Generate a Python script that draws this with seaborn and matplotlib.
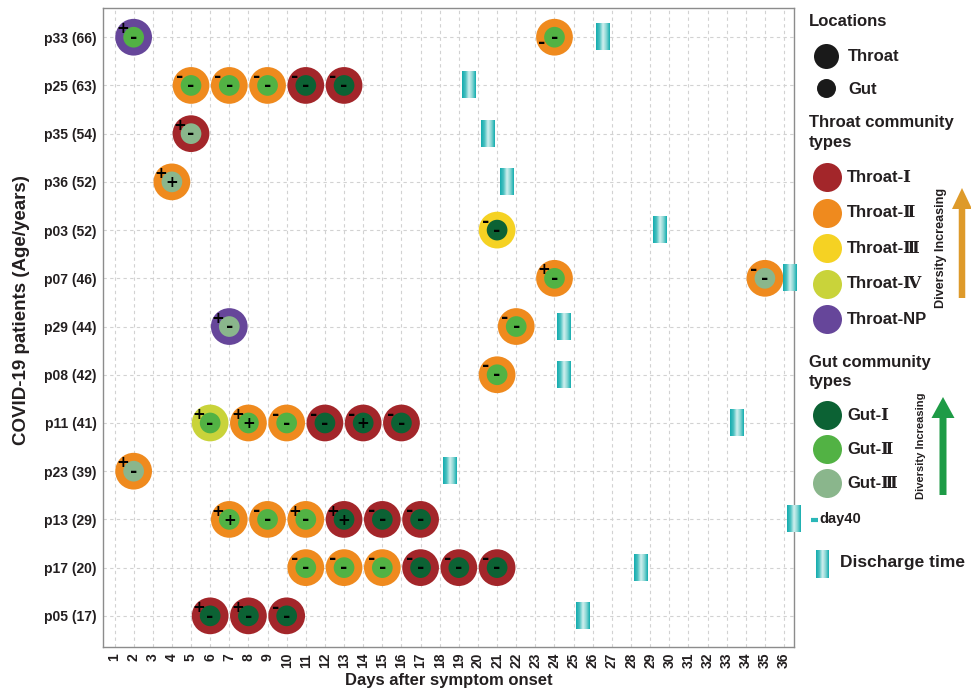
import numpy as np
import pandas as pd
import matplotlib
matplotlib.use("Agg")
import matplotlib.pyplot as plt
import seaborn as sns
from matplotlib import font_manager
from matplotlib.colors import LinearSegmentedColormap
from matplotlib.patches import FancyArrow

# ---------------------------------------------------------------- data
patients = ["p33 (66)", "p25 (63)", "p35 (54)", "p36 (52)", "p03 (52)",
            "p07 (46)", "p29 (44)", "p08 (42)", "p11 (41)", "p23 (39)",
            "p13 (29)", "p17 (20)", "p05 (17)"]
discharge_day = [26.5, 19.5, 20.5, 21.5, 29.5, 36.3, 24.5, 24.5, 33.5,
                 18.5, 36.5, 28.5, 25.5]

sample_patient = (["p33 (66)"] * 2 + ["p25 (63)"] * 5 + ["p35 (54)"] + ["p36 (52)"]
                  + ["p03 (52)"] + ["p07 (46)"] * 2 + ["p29 (44)"] * 2 + ["p08 (42)"]
                  + ["p11 (41)"] * 6 + ["p23 (39)"] + ["p13 (29)"] * 6
                  + ["p17 (20)"] * 6 + ["p05 (17)"] * 3)
sample_day = [2, 24,
              5, 7, 9, 11, 13,
              5,
              4,
              21,
              24, 35,
              7, 22,
              21,
              6, 8, 10, 12, 14, 16,
              2,
              7, 9, 11, 13, 15, 17,
              11, 13, 15, 17, 19, 21,
              6, 8, 10]
throat_type = ["NP", "II",
               "II", "II", "II", "I", "I",
               "I",
               "II",
               "III",
               "II", "II",
               "NP", "II",
               "II",
               "IV", "II", "II", "I", "I", "I",
               "II",
               "II", "II", "II", "I", "I", "I",
               "II", "II", "II", "I", "I", "I",
               "I", "I", "I"]
gut_type = ["II", "II",
            "II", "II", "II", "I", "I",
            "III",
            "III",
            "I",
            "II", "III",
            "III", "II",
            "II",
            "II", "II", "II", "I", "I", "I",
            "III",
            "II", "II", "II", "I", "I", "I",
            "II", "II", "II", "I", "I", "I",
            "I", "I", "I"]
throat_sign = ["+", "-",
               "-", "-", "-", "-", "-",
               "+",
               "+",
               "-",
               "+", "-",
               "+", "-",
               "-",
               "+", "+", "-", "-", "-", "-",
               "+",
               "+", "-", "+", "+", "-", "-",
               "-", "-", "-", "-", "-", "-",
               "+", "+", "-"]
gut_sign = ["-", "-",
            "-", "-", "-", "-", "-",
            "-",
            "+",
            "-",
            "-", "-",
            "-", "-",
            "-",
            "-", "+", "-", "-", "+", "-",
            "-",
            "+", "-", "-", "+", "-", "-",
            "-", "-", "-", "-", "-", "-",
            "-", "-", "-"]
# samples whose throat sign sits below-left of the circle
throat_sign_low = [("p33 (66)", 24)]

day_ticks = list(range(1, 37))

throat_levels = ["I", "II", "III", "IV", "NP"]
throat_labels = ["Throat-Ⅰ", "Throat-Ⅱ", "Throat-Ⅲ", "Throat-Ⅳ", "Throat-NP"]
gut_levels = ["I", "II", "III"]
gut_labels = ["Gut-Ⅰ", "Gut-Ⅱ", "Gut-Ⅲ"]

throat_colors = {"I": "#A3262A", "II": "#EF8A1E", "III": "#F5D223",
                 "IV": "#C9D33A", "NP": "#66469A"}
gut_colors = {"I": "#0C6234", "II": "#52B244", "III": "#8AB68C"}

# ---------------------------------------------------------------- style
sns.set_style("white")
available = {f.name for f in font_manager.fontManager.ttflist}
NARROW = "Liberation Sans Narrow" if "Liberation Sans Narrow" in available else "Liberation Sans"
BASE = ["Liberation Sans", "DejaVu Serif", "Noto Sans CJK SC", "DejaVu Sans"]
plt.rcParams["font.family"] = BASE
INK = "#231f20"

df = pd.DataFrame({
    "patient": pd.Categorical(sample_patient, categories=patients, ordered=True),
    "day": sample_day,
    "throat": throat_type,
    "gut": gut_type,
    "tsign": throat_sign,
    "gsign": gut_sign,
})

fig = plt.figure(figsize=(9.71, 6.91), dpi=100)
ax = fig.add_axes([0.1061, 0.0641, 0.7116, 0.9239])

sns.scatterplot(data=df, x="day", y="patient", hue="throat", palette=throat_colors,
                s=700, linewidth=0, legend=False, ax=ax, zorder=3)
sns.scatterplot(data=df, x="day", y="patient", hue="gut", palette=gut_colors,
                s=222, linewidth=0, legend=False, ax=ax, zorder=4)

# community sign labels
sign_font = {"-": 12.5, "+": 11}
for p, d, ts, gs in zip(sample_patient, sample_day, throat_sign, gut_sign):
    yi = patients.index(p)
    off = (-9.5, -4.5) if (p, d) in throat_sign_low else (-8.0, 6.0)
    ax.annotate(ts, (d, yi), xytext=off, textcoords="offset points",
                ha="center", va="center", fontsize=sign_font[ts], fontweight="bold",
                family="DejaVu Sans", color="black", zorder=6)
    ax.annotate(gs, (d, yi), xytext=(0, -0.5), textcoords="offset points",
                ha="center", va="center", fontsize=sign_font[gs], fontweight="bold",
                family="DejaVu Sans", color="black", zorder=6)

# discharge-time bars with a teal gradient
bar_cmap = LinearSegmentedColormap.from_list(
    "discharge", ["#13acae", "#48c0c0", "#d3f0ef", "#86d5d3", "#13acae"])
grad = np.linspace(0, 1, 64).reshape(1, -1)
bar_w, bar_h = 0.7, 0.54
for yi, d in enumerate(discharge_day):
    im = ax.imshow(grad, cmap=bar_cmap, aspect="auto", interpolation="bilinear",
                   extent=[d - bar_w / 2, d + bar_w / 2, yi + bar_h / 2, yi - bar_h / 2],
                   zorder=5)
    im.set_clip_on(False)

# "day40" note beside the last p13 bar
y13 = patients.index("p13 (29)")
ax.annotate("day40", (discharge_day[y13], y13), xytext=(18.5, 0), textcoords="offset points",
            ha="left", va="center", fontsize=10.5, fontweight="bold",
            family=NARROW, color=INK, annotation_clip=False)

ax.set_xlim(0.4, 36.52)
ax.set_ylim(12.64, -0.6)
ax.set_xticks(day_ticks)
ax.set_xticklabels([str(t) for t in day_ticks], rotation=90, family=NARROW,
                   fontweight="bold", fontsize=10, color=INK)
ax.set_yticks(range(len(patients)))
ax.set_yticklabels(patients, family=NARROW, fontweight="bold", fontsize=10, color=INK)
ax.tick_params(axis="both", length=2.5, width=0.8, color="#555555", pad=2)

ax.grid(True, linestyle=(0, (3, 3)), color="#d2d2d2", linewidth=0.8)
ax.set_axisbelow(True)
for sp in ax.spines.values():
    sp.set_color("#8c8c8c")
    sp.set_linewidth(1.0)

ax.set_xlabel("")
ax.set_ylabel("")
fig.text(448.5 / 971, 1 - 680 / 691, "Days after symptom onset", fontsize=12,
         fontweight="bold", color=INK, ha="center", va="center")
fig.text(22 / 971, 1 - 310 / 691, "COVID-19 patients (Age/years)", fontsize=13.5,
         fontweight="bold", color=INK, ha="center", va="center", rotation=90)

# ---------------------------------------------------------------- legend panel (pixel coordinates)
lax = fig.add_axes([0, 0, 1, 1])
lax.axis("off")
lax.patch.set_alpha(0)

def ltext(x, y, s, size=12, **kw):
    lax.text(x, y, s, fontsize=size, fontweight="bold", color=INK,
             ha=kw.pop("ha", "left"), va=kw.pop("va", "center"), **kw)

# small teal dash next to the day40 note
lax.plot([811, 818], [520, 520], color="#2ab7b8", lw=3, solid_capstyle="butt")

ltext(809, 21, "Locations")
lax.scatter([826], [56], s=324, color="#1a1a1a", linewidths=0)
lax.scatter([826], [88], s=187, color="#1a1a1a", linewidths=0)
ltext(848, 56, "Throat")
ltext(848, 89, "Gut")

ltext(809, 122, "Throat community")
ltext(809, 142, "types")
for i, (lvl, lab) in enumerate(zip(throat_levels, throat_labels)):
    yy = 177 + i * 35.6
    lax.scatter([827], [yy], s=436, color=throat_colors[lvl], linewidths=0)
    ltext(847, yy, lab)

ltext(809, 362, "Gut community")
ltext(809, 381, "types")
for i, (lvl, lab) in enumerate(zip(gut_levels, gut_labels)):
    yy = 415 + i * 34
    lax.scatter([827], [yy], s=436, color=gut_colors[lvl], linewidths=0)
    ltext(847, yy, lab)

# diversity arrows
lax.add_patch(FancyArrow(962, 298, 0, -110, width=6.5, head_width=20, head_length=21,
                         length_includes_head=True, color="#DE9A2A", linewidth=0))
lax.text(941, 248, "Diversity Increasing", rotation=90, ha="center", va="center",
         fontsize=9.1, fontweight="bold", family=NARROW, color=INK)
lax.add_patch(FancyArrow(943, 495, 0, -98, width=7, head_width=23, head_length=21,
                         length_includes_head=True, color="#1E9B46", linewidth=0))
lax.text(921, 446, "Diversity Increasing", rotation=90, ha="center", va="center",
         fontsize=8.0, fontweight="bold", family=NARROW, color=INK)

# discharge legend
lax.imshow(grad, cmap=bar_cmap, aspect="auto", interpolation="bilinear",
           extent=[816, 829, 578, 550])
lax.set_xlim(0, 971)
lax.set_ylim(691, 0)
ltext(840, 563, "Discharge time", size=12.5)

fig.savefig("out.png", dpi=100)
